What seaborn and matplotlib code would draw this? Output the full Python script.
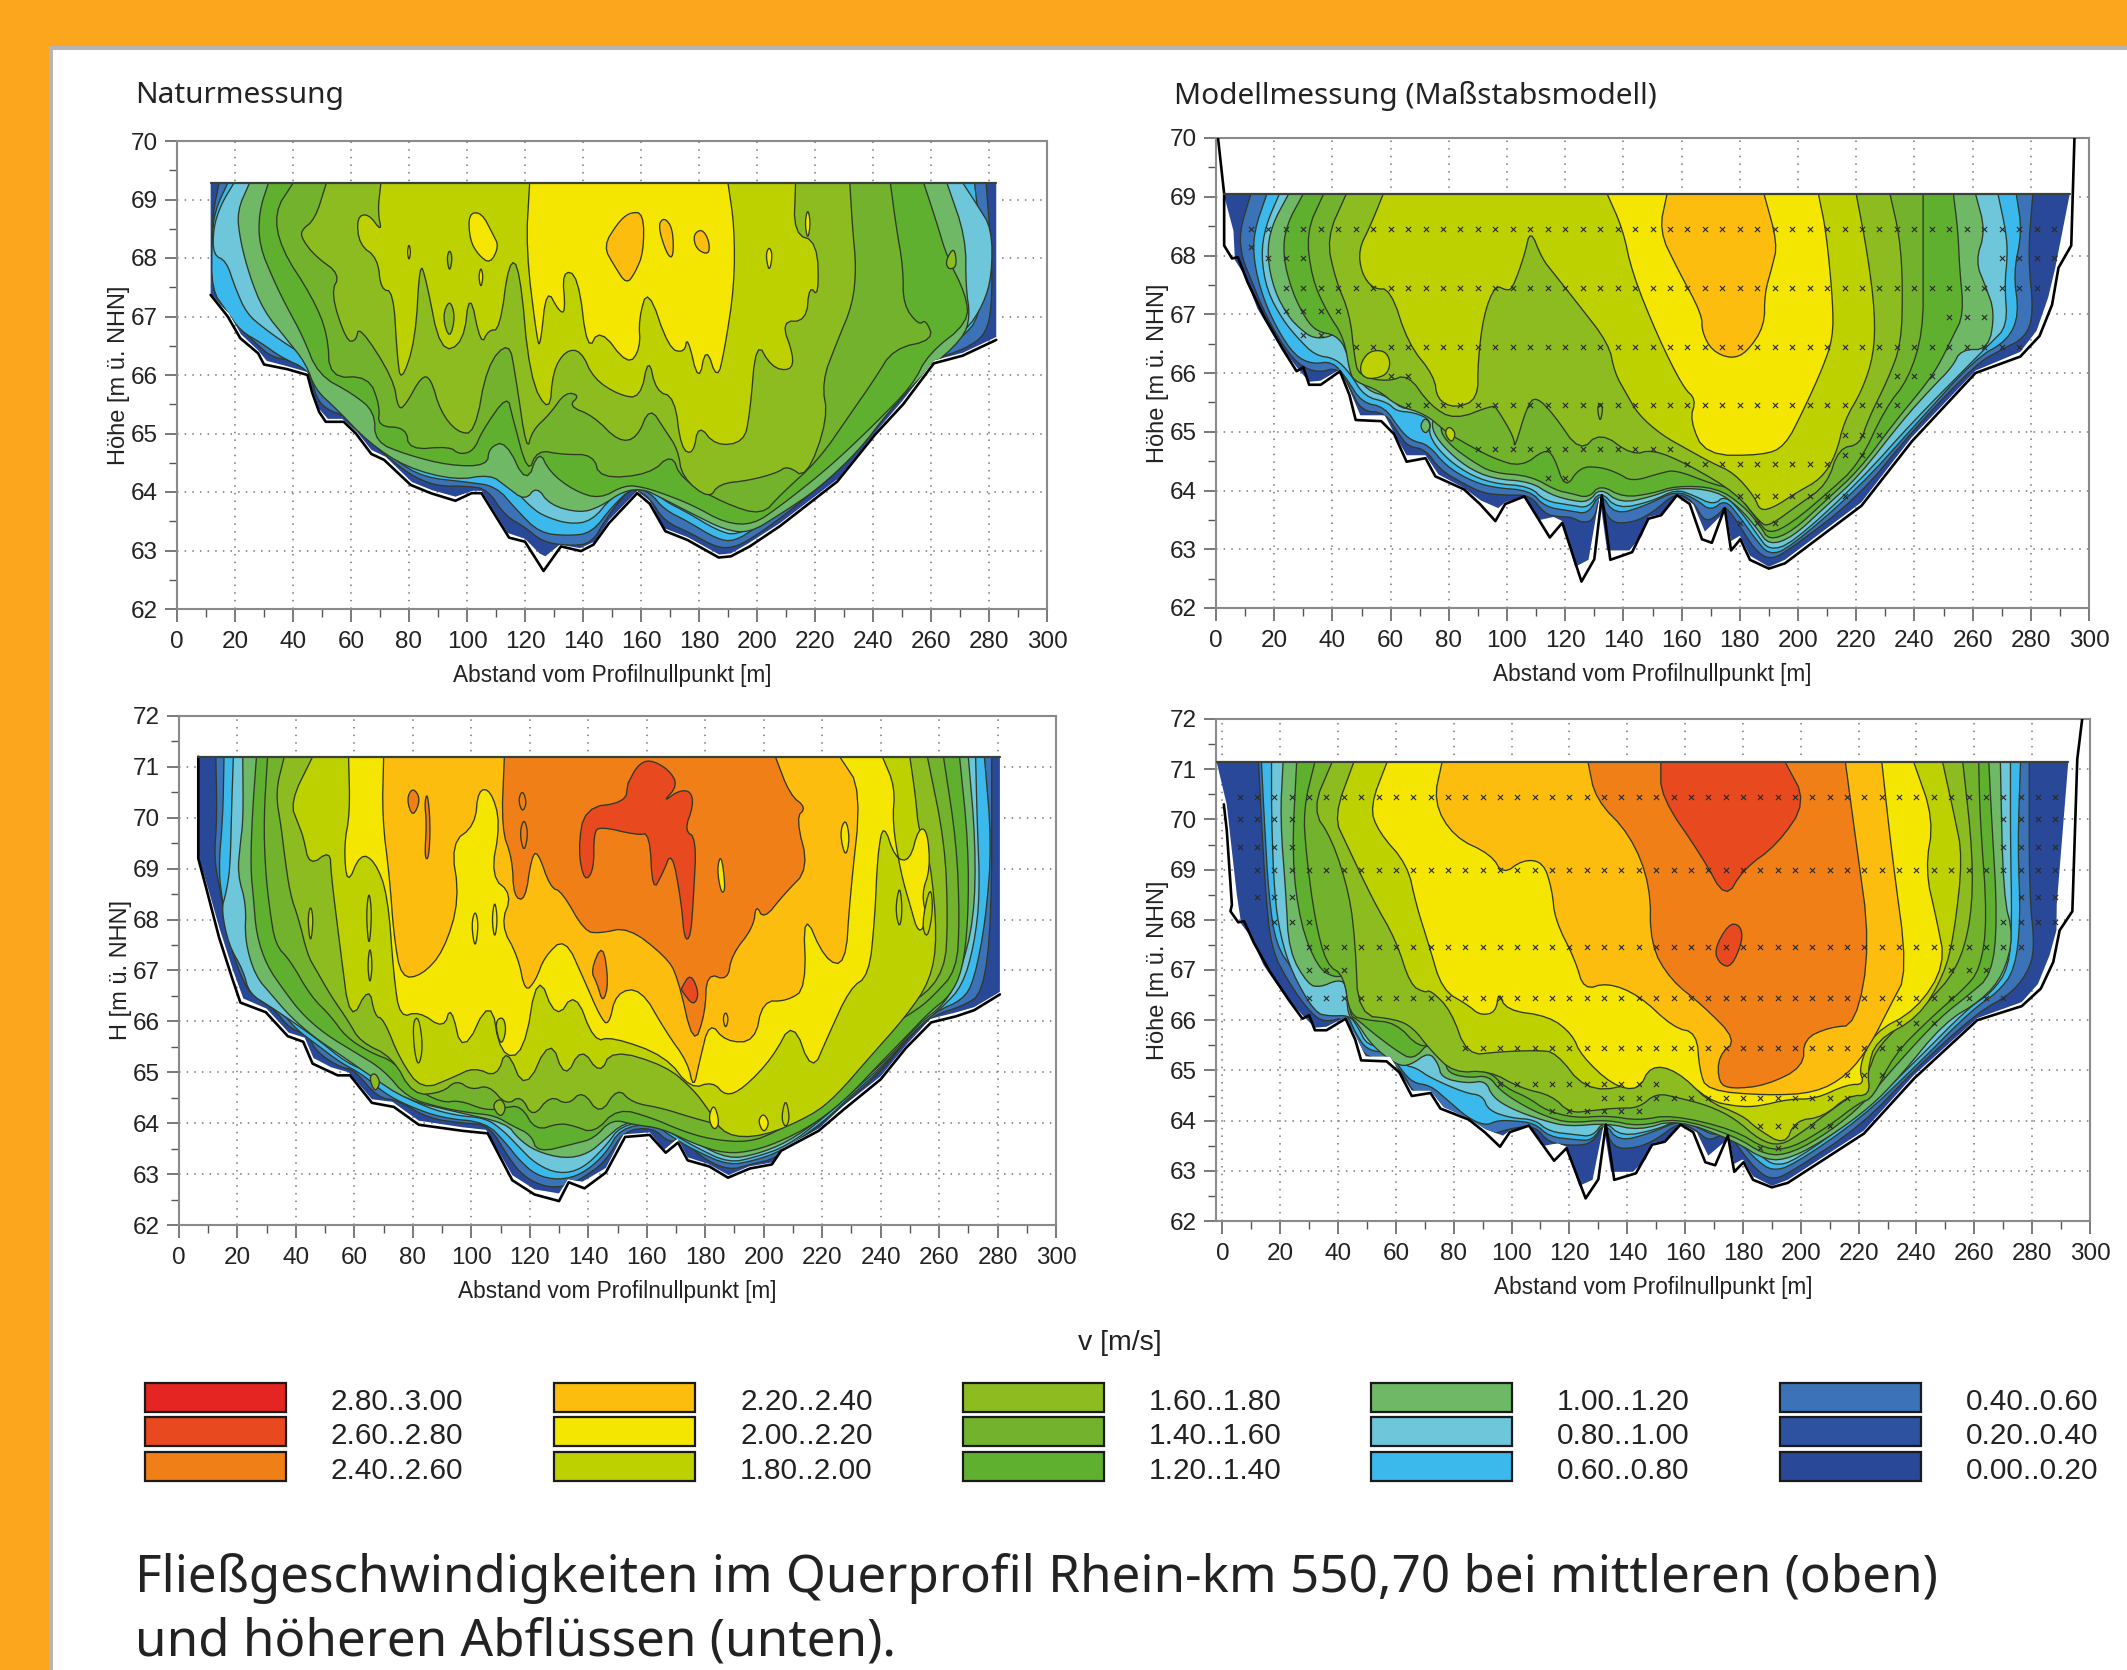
import numpy as np
import matplotlib
matplotlib.use('Agg')
import matplotlib.pyplot as plt
from matplotlib.patches import Polygon, Rectangle
import seaborn as sns

W, H = 2127, 1670

BAND_COLORS = ['#2A4898', '#2C52A0', '#3B72B8', '#3CB9EC', '#6EC6DA', '#6EB866', '#60B030', '#72B22C',
               '#8DBC20', '#BDD000', '#F4E600', '#FDBD0E', '#F07F18', '#E8491E', '#E52521']
LEGEND_COLUMNS = [[14, 13, 12], [11, 10, 9], [8, 7, 6], [5, 4, 3], [2, 1, 0]]
LEGEND_LABELS = [['2.80..3.00', '2.60..2.80', '2.40..2.60'], ['2.20..2.40', '2.00..2.20', '1.80..2.00'],
                 ['1.60..1.80', '1.40..1.60', '1.20..1.40'], ['1.00..1.20', '0.80..1.00', '0.60..0.80'],
                 ['0.40..0.60', '0.20..0.40', '0.00..0.20']]

# Naturmessung, mittlerer Abfluss
TL_BED = [(11.6,67.37),(17.5,67.0),(21.8,66.63),(28,66.37),(30,66.18),(38,66.1),(45,66.0),(46.6,65.7),(49,65.37),(51.3,65.2),(57.5,65.2),(61.7,65.0),(67,64.65),(71.4,64.55),(80.6,64.12),(87.5,63.98),(96,63.85),(101.6,63.98),(105,63.98),(114.5,63.22),(120,63.15),(126.4,62.65),(132.4,63.07),(139.3,62.99),(143.6,63.1),(149,63.47),(158.7,63.98),(163,63.8),(168.4,63.33),(176,63.18),(186.8,62.88),(191,62.9),(197.5,63.07),(208,63.42),(227.7,64.18),(240.7,64.98),(250.4,65.5),(261,66.2),(270.9,66.33),(282.5,66.6)]
TL_FILL = [(11.6,69.28),(11.6,67.4),(15,67.2),(18,67.05),(22,66.7),(28,66.42),(31,66.24),(38,66.15),(45,66.05),(47,65.7),(49,65.42),(52,65.25),(57,65.25),(62,65.03),(67,64.72),(72,64.6),(81,64.17),(88,64.03),(96,63.92),(102,64.02),(105,64.02),(114,63.3),(120,63.2),(125,62.95),(127,62.9),(132,63.1),(139,63.04),(144,63.15),(149,63.52),(158.7,64.02),(163,63.85),(168,63.38),(176,63.23),(187,62.93),(191,62.95),(197,63.12),(208,63.47),(228,64.23),(241,65.03),(250,65.55),(261,66.25),(271,66.38),(282.5,66.65),(282.5,69.28)]
TL_L04 = [(14.5,69.28),(12.5,68.8),(12,68.3),(12,67.8),(13,67.5),(18,67.2),(22,66.8),(28,66.5),(33,66.3),(40,66.25),(46,66.05),(48,65.6),(52,65.4),(58,65.3),(63,65.05),(68,64.8),(75,64.5),(82,64.25),(90,64.1),(100,64.1),(107,64.05),(113,63.6),(120,63.4),(126,63.15),(135,63.08),(143,63.12),(148,63.55),(155,64.0),(158,64.05),(163,63.9),(168,63.5),(177,63.3),(186,63.05),(192,63.05),(198,63.2),(208,63.55),(218,63.95),(228,64.35),(240,65.1),(250,65.65),(260,66.25),(272,66.45),(279,66.7),(281,67.2),(281,68),(279,69.28)]
TL_L06 = [(17.5,69.28),(13,68.8),(12,68.3),(12,67.45),(17,67.1),(22,66.75),(29,66.55),(36,66.3),(45,66.1),(50,65.65),(55,65.45),(60,65.25),(67,64.9),(75,64.55),(85,64.25),(100,64.17),(110,64.1),(117,63.7),(125,63.3),(135,63.25),(143,63.3),(150,63.75),(157,64.08),(163,64.0),(168,63.7),(176,63.5),(186,63.2),(192,63.15),(200,63.4),(210,63.75),(220,64.15),(230,64.6),(240,65.3),(250,65.85),(260,66.4),(270,66.6),(277,67),(278,68),(275,69.28)]
TL_L08 = [(19.6,69.28),(15,68.9),(12.5,68.5),(12.5,68.05),(17,67.95),(20,67.5),(24,67.05),(30,66.8),(37,66.55),(45,66.3),(50,65.85),(56,65.55),(63,65.2),(72,64.75),(82,64.4),(95,64.28),(108,64.28),(113,64.2),(118,63.95),(122,63.75),(126,63.6),(135,63.45),(143,63.5),(150,63.92),(157,64.12),(163,64.07),(168,63.85),(176,63.65),(186,63.35),(193,63.25),(202,63.55),(212,63.9),(222,64.35),(232,64.9),(242,65.45),(252,66.0),(262,66.5),(272,66.75),(278,67.2),(281,67.7),(281,68.5),(276,68.9),(271,69.28)]
TL_L10 = [(25,69.28),(20.7,68.8),(21.8,68.3),(25,67.7),(29.8,67.1),(38,66.6),(44.4,66.2),(47.7,65.75),(55,65.42),(66,64.85),(79,64.42),(96,64.2),(108,64.3),(113.4,64.1),(120,63.85),(124,64.1),(128.5,63.78),(139,63.64),(146,63.75),(154,64.02),(161,64.05),(167,63.9),(178,63.62),(189,63.35),(197.5,63.3),(208,63.62),(221,64.05),(235,64.7),(245,65.35),(258,66.05),(271,66.62),(273.5,67),(272,67.5),(272,68.35),(265.5,69.28)]
TL_L12 = [(31.5,69.28),(28.3,68.79),(28.3,68.22),(33.6,67.59),(38,67.15),(43.3,66.67),(48.7,66),(60.6,65.68),(68.2,65.37),(68.2,64.86),(79,64.64),(94,64.45),(107,64.45),(107.6,64.76),(113.4,64.87),(120.5,64.12),(124.8,64.72),(128.5,64.34),(137,64.02),(145.8,63.88),(154.4,64.12),(161,64.08),(168.4,63.96),(178,63.77),(189,63.47),(198.7,63.44),(208,63.76),(221.3,64.28),(230,64.66),(240.7,65.17),(253.6,65.82),(259,66.36),(273,66.9),(272,67.38),(265.5,68.02),(262,68.6),(257.5,69.28)]
TL_L14 = [(40,69.28),(33.6,68.79),(35.8,68.16),(46.6,67.34),(52,66.7),(52.6,65.95),(66,65.98),(70,65.47),(69.2,65.12),(79,65.1),(80,64.72),(94,64.78),(97.3,64.64),(102.3,64.7),(105.3,65.05),(113.9,65.66),(115.6,65.3),(121,64.3),(124.2,64.72),(132.8,64.64),(143.6,64.64),(145.8,64.23),(163,64.3),(170.6,64.66),(173.8,64.22),(189,63.8),(201.7,63.6),(208,63.95),(221.3,64.55),(232,65.32),(240.7,65.94),(247,66.45),(261,66.6),(258.2,66.95),(255.8,66.85),(250.4,67.2),(250.4,67.84),(248,68.53),(246,69.28)]
TL_L16 = [(51.5,69.28),(47.6,68.66),(42.7,68.47),(43.3,68.31),(47.7,68.03),(56.3,67.72),(53,67.4),(58.4,66.58),(61.7,66.58),(62.8,66.85),(74.6,65.94),(76.3,65.4),(79,65.5),(84.3,65.98),(87.5,65.95),(90.8,65.38),(96.6,65.02),(102.7,65),(106.9,66.17),(114.5,66.58),(116.7,66),(120.6,64.68),(122.5,65.05),(128.5,65.33),(134,65.71),(138.9,65.65),(135,65.47),(143.6,65.3),(152.3,64.86),(158.7,64.92),(163,65.46),(168.4,65.05),(172.7,64.73),(174.2,64.25),(183.5,63.88),(186.8,64.14),(197.5,64.2),(207,64.33),(210.5,64.45),(217,64.23),(224.5,65.25),(222.3,65.88),(227.7,66.58),(233,67.21),(234.2,67.84),(233,68.47),(232,69.28)]
TL_L18 = [(70.3,69.28),(69.2,68.79),(70.7,68.44),(66,68.76),(62,68.7),(62.8,68.23),(69.2,68),(70.3,67.46),(74.6,67.43),(75.9,66.34),(77.2,65.86),(82.2,66.58),(83.7,67.93),(85.8,67.66),(90.8,66.39),(98.8,66.54),(100.9,67.46),(104.8,66.5),(107.4,66.77),(111.3,66.77),(114.5,67.97),(118.2,67.84),(121.6,65.94),(128.5,65.33),(129.6,66.07),(134,66.42),(139.3,66.42),(143.6,65.94),(152.3,65.66),(159.8,65.6),(162.6,66.32),(165.2,65.72),(171.6,65.62),(173.8,64.74),(178,64.64),(179.8,65.16),(185.7,64.79),(195.4,64.85),(197.5,65.31),(199.7,66.6),(205,66.13),(211.6,66.07),(212.7,66.32),(208.3,66.92),(217,66.92),(218,67.53),(221.3,67.33),(220.8,68.28),(212.7,68.41),(213.3,69.28)]
TL_L20 = [(121.6,69.28),(120.3,68.16),(124.2,66.58),(125.3,66.5),(127.4,67.49),(131.8,67.08),(134,67.08),(132.8,67.78),(138.3,67.71),(141.5,66.39),(145.8,66.8),(155.5,66.16),(159.8,66.45),(159.2,66.96),(162.4,67.5),(169.6,66.45),(175,66.38),(176,66.67),(179.9,65.85),(182.4,66.5),(186.3,65.9),(188.9,66.45),(192.2,67.53),(192.2,68.54),(190,69.28)]
TL_ISLANDS = [(10, [(100.5,68.76),(105,68.78),(109,68.4),(111,68.2),(108,67.9),(104,68.05),(101,68.3)]),
              (11, [(147,68.2),(152,68.6),(156,68.78),(160.9,68.77),(160.9,68.1),(158,67.75),(155,67.55),(151,67.85)]),
              (11, [(165.8,68.55),(168,68.7),(171,68.5),(171.2,68),(169,68.05)]),
              (11, [(178,68.4),(181,68.5),(183.5,68.3),(183.5,68.05),(179,68.15)]),
              (10, [(79.4,68.1),(80,68.25),(80.6,68.1),(80,67.95)]),
              (10, [(104,67.68),(104.8,67.85),(105.6,67.68),(104.8,67.48)]),
              (10, [(203,68.05),(204.2,68.2),(205.4,68.05),(204.2,67.75)]),
              (10, [(216.5,68.6),(217.5,68.85),(218.5,68.6),(217.5,68.3)]),
              (8, [(93,68.0),(94,68.15),(95,68.0),(94,67.75)]),
              (8, [(91.5,67),(94,67.3),(96,67),(94,66.6)]),
              (8, [(265,67.95),(268,68.2),(269,67.85),(266,67.8)])]

# Naturmessung, hoeherer Abfluss
BL_BED = [(6.6,71.2),(6.6,69.2),(9.4,68.6),(13.7,67.65),(18,66.88),(21,66.37),(29.7,66.18),(37.2,65.71),(42.5,65.6),(45.7,65.17),(54.3,64.94),(58.5,64.94),(66,64.4),(73.5,64.32),(82,63.97),(97,63.85),(105.6,63.8),(114,62.88),(121.6,62.6),(130,62.47),(133.3,62.84),(138.7,62.72),(146,63.03),(152.6,63.73),(161,63.77),(166.5,63.42),(170.7,63.62),(174,63.27),(181.4,63.15),(187.8,62.93),(195.3,63.11),(202.8,63.19),(206,63.46),(218.8,63.85),(227.4,64.27),(240,64.86),(248.7,65.48),(257.3,65.98),(265.8,66.1),(272,66.22),(280.8,66.53)]
BL_FILL = [(6.6,71.2),(6.6,69.25),(10,68.6),(14,67.8),(18.5,67),(22,66.45),(30,66.25),(37.5,65.78),(43,65.68),(46,65.28),(52,65.1),(58,65.0),(66,64.47),(73,64.42),(82,64.05),(97,63.92),(105,63.87),(114,62.98),(121.6,62.7),(130,62.62),(133,62.9),(138,62.85),(146,63.12),(152,63.78),(161,63.82),(166,63.48),(170.5,63.7),(174,63.33),(181,63.2),(188,62.98),(195,63.15),(203,63.23),(206,63.5),(219,63.9),(227,64.33),(240,64.92),(249,65.55),(257,66.05),(266,66.18),(272,66.28),(280.8,66.58),(280.8,71.2)]
BL_L04 = [(12.6,71.2),(13,70),(12,69.2),(14,68.6),(17,67.6),(21,66.9),(25,66.5),(32,66.28),(38,65.85),(44,65.75),(47,65.4),(55,65.1),(60,65.05),(68,64.5),(75,64.45),(85,64.1),(97,64.0),(106,63.97),(113,63.3),(118,62.95),(125,62.75),(132,62.75),(138,62.92),(146,63.25),(152,63.85),(162,63.92),(168,63.6),(172,63.75),(178,63.35),(188,63.07),(196,63.2),(204,63.3),(219,63.95),(228,64.4),(240,65),(249,65.65),(258,66.12),(268,66.3),(275,66.55),(278,68),(278,71.2)]
BL_L06 = [(15.4,71.2),(15,70),(13.5,69),(15,68.3),(18,67.4),(22,67),(28,66.45),(35,66.2),(40,65.85),(47,65.55),(55,65.2),(63,64.95),(70,64.6),(78,64.35),(90,64.1),(105,64.02),(112,63.6),(116,63.3),(122,62.98),(130,62.88),(138,63.0),(146,63.4),(151,63.9),(162,64),(170,63.68),(177,63.45),(188,63.17),(197,63.27),(206,63.45),(220,64),(230,64.55),(241,65.1),(250,65.75),(259,66.2),(268,66.42),(272,66.8),(276,68),(278,69.5),(275.5,71.2)]
BL_L08 = [(18.6,71.2),(18,70.2),(17.5,69),(16,68.5),(14.5,68.2),(17,67.5),(22,67.0),(24,66.55),(31,66.3),(40,65.95),(48,65.62),(57,65.2),(65,65.0),(72,64.67),(85,64.3),(95,64.15),(105,64.1),(111,63.85),(116,63.55),(122,63.2),(130,63.0),(138,63.1),(146,63.55),(151,63.95),(162,64.05),(170,63.75),(177,63.52),(188,63.22),(197,63.33),(208,63.55),(220,64.08),(231,64.65),(242,65.2),(252,65.85),(261,66.27),(268,66.7),(272,67.5),(274,68.5),(273,70),(272.5,71.2)]
BL_L10 = [(21.8,71.2),(22,70),(21,69.5),(20,68.9),(23,68.3),(22.5,67.6),(26,66.9),(32,66.5),(38,66.1),(46,65.7),(55,65.35),(65,64.95),(78,64.45),(95,64.22),(112,64.0),(116,63.7),(122,63.45),(132,63.3),(140,63.4),(146,63.7),(152,64),(162,64.1),(170,63.85),(177,63.6),(188,63.3),(197,63.38),(208,63.62),(221,64.15),(232,64.75),(243,65.3),(253,65.95),(262,66.35),(267,66.9),(272,68),(272.5,69.5),(270,71.2)]
BL_L12 = [(26.5,71.2),(25,70),(24.5,69),(25.5,68.4),(26.5,67.7),(30,67.1),(36,66.6),(42,66.15),(50,65.75),(60,65.4),(70,65.05),(78,64.5),(90,64.3),(100,64.2),(108,64.15),(114,63.95),(120.5,63.77),(122.6,63.42),(135.5,63.6),(142,63.7),(148,64.08),(155.8,63.97),(165,63.9),(176,63.6),(186.8,63.4),(197,63.46),(208,63.7),(219,64.05),(229.5,64.55),(239,65.13),(248.7,65.7),(257,66.2),(263.7,66.5),(268,67),(270,68),(270,69.5),(267,71.2)]
BL_L14 = [(30.3,71.2),(29,70),(29.5,69),(31,68.2),(33,67.5),(38,67.2),(45,66.5),(52,66.1),(57,65.7),(65,65.4),(74,65.2),(80,64.7),(90,64.4),(96,64.45),(105,64.25),(111,64.3),(117,64.35),(122,63.85),(130,64.0),(135,63.95),(142,63.8),(150,64.3),(162,64.1),(172,63.85),(182,63.68),(195,63.62),(205,63.85),(215,64.2),(225,64.7),(236,65.35),(243,65.9),(253,66.25),(258,66.5),(266,67),(267,68),(266,69.5),(261.5,71.2)]
BL_L16 = [(36,71.2),(33,70.5),(35,69.8),(36,69.3),(38,68.5),(41,68),(44,67.3),(47,67),(52,66.5),(58,66),(62,65.6),(73,65.3),(80,64.55),(90,64.6),(95,64.85),(100,64.65),(106,64.75),(112,64.35),(117,64.55),(121,64.1),(127,64.55),(133,64.35),(138,64.65),(144,64.15),(150,64.7),(155,64.4),(165,64.3),(176,64.1),(186,63.95),(195,63.85),(205,64.05),(215,64.55),(222,65.0),(229,65.65),(240,66.2),(253,66.4),(262,67),(263,68),(262,69.5),(256,71.2)]
BL_L18 = [(45.7,71.2),(38,70.3),(41,69.85),(42.5,69.63),(44.6,69.05),(51.7,69.36),(52,68.9),(55,67.5),(58.5,65.95),(65,66.7),(67,66.1),(70,66.05),(75.6,65.25),(83,64.65),(93.8,64.9),(101,65.1),(108.8,64.9),(112,65.5),(118.4,64.6),(127,65.7),(132,64.85),(137.6,65.5),(144,64.95),(148,65.45),(166.5,65.13),(176,64.66),(181.4,64.24),(186.8,63.75),(199.6,63.73),(216.7,64.16),(225,64.55),(236,65.28),(248.7,66.1),(257,66.8),(259.4,67.65),(257,69.2),(253,69.75),(252,70.4),(250,71.2)]
BL_L20 = [(58,71.2),(58.5,70.1),(56.4,69.45),(57.5,68.66),(62,69.3),(67,69.15),(71.4,68.5),(73.5,66.87),(75.6,66.07),(82,66.2),(90.6,65.85),(93,66.33),(97,65.32),(106.6,66.5),(110,65.32),(118,65.35),(122.6,67.0),(129,66.02),(135.5,66.6),(142,65.6),(148,65.7),(166.5,65.32),(175,64.67),(182.6,64.82),(187,64.53),(193,64.68),(203,65.28),(210,66.03),(216.5,64.98),(222,65.71),(229.5,66.65),(236,66.9),(238,68),(239,69.3),(241,69.9),(245,69.2),(250,69.15),(253,69.8),(256,69.75),(257,69),(254,68.5),(256,68),(253,67.7),(250,68.3),(247,68.9),(244,69.9),(245,70.6),(240.6,71.2)]
BL_L22 = [(70,71.2),(69.5,70),(72,68.85),(73.5,67.68),(76,66.85),(83,66.9),(90.6,67.38),(96,68.4),(93,69.5),(101.3,69.85),(102.3,70.55),(106.6,70.55),(110,69.9),(106.6,68.85),(114,68.5),(110,67.9),(116,67.27),(118.4,66.57),(122,66.8),(125,67.27),(132,67.65),(138.7,66.8),(144,66.1),(147,65.9),(149.5,66.57),(158,66.65),(166.5,65.8),(174,65.2),(176,64.67),(178,65.2),(181.4,66),(187,65.6),(197,65.6),(199.6,66.4),(208,66.4),(214.6,66.65),(213.5,68.2),(221,67.2),(228,67.1),(229.5,68.43),(233.5,70.55),(226,71.2)]
BL_L24 = [(111.3,71.2),(110.3,69.78),(114,69.2),(114.5,68.45),(118.4,68.37),(120.5,69.2),(122.6,69.36),(127,68.63),(131,68.55),(138.7,67.77),(144,67.73),(153.7,67.85),(166.5,67.27),(170.5,66.9),(176,65.5),(180,66.15),(180.5,66.95),(187.7,66.8),(189,67.3),(196.5,67.85),(197.4,68.3),(200,68),(207,68.5),(215.5,69.0),(211,70),(214.6,70.2),(209,70.45),(204,71.2)]
BL_L26 = [(153.6,70.68),(156.8,71.03),(161,71.15),(167.5,70.95),(170.7,70.64),(165.4,70.3),(170.7,70.53),(175,70.53),(176,70.25),(172.9,69.75),(177,69.6),(176,68.43),(175,67.65),(172.9,67.6),(171.8,68.35),(168.6,69.36),(165.4,68.9),(162,68.55),(161,69.7),(156.8,69.66),(144,69.83),(141.9,69.7),(141.9,68.97),(138.7,68.74),(136.5,69.36),(138.7,70.2),(152.6,70.3),(153.6,70.68)]
BL_ISLANDS = [(12, [(140.8,67),(145,67.55),(147,66.75),(145,66.35),(143,66.75)]),
              (12, [(77.8,70.37),(80,70.6),(82.7,70.37),(80,70)]),
              (13, [(171.8,66.65),(175,66.95),(178,66.55),(176,66.3),(172,66.6)]),
              (10, [(100,67.9),(101.3,68.2),(102.5,67.9),(101.3,67.4)]),
              (10, [(107,68.0),(108,68.4),(109,68.0),(108,67.6)]),
              (10, [(184,69.0),(185.5,69.3),(187,68.6),(185.5,68.5)]),
              (10, [(226,69.7),(228,70),(229.5,69.6),(228,69.2)]),
              (9, [(80,66),(82,66.1),(83.5,65.5),(82,65.1),(80.5,65.4)]),
              (9, [(108,66),(111,66.1),(112,65.8),(110,65.5)]),
              (10, [(181,64.1),(183,64.4),(185,64.0),(183,63.85)]),
              (10, [(198,64.05),(200,64.2),(202,64.0),(200,63.8)]),
              (11, [(186,66.05),(187,66.2),(188,66.05),(187,65.85)]),
              (9, [(44,68),(45,68.3),(46,68),(45,67.5)]),
              (12, [(84,70.3),(85,70.5),(86,69.9),(85.5,69.2),(84,69.2),(84.7,69.9)]),
              (12, [(116,70.35),(117.5,70.55),(119,70.3),(117.5,70.1)]),
              (12, [(116.5,69.7),(118,70),(119.5,69.7),(118,69.3)]),
              (9, [(64,68.1),(65,68.6),(66,68.1),(65,67.4)]),
              (9, [(64.5,67.1),(65.3,67.5),(66.2,67.1),(65.3,66.7)]),
              (9, [(245,68.2),(246.5,68.7),(247.5,68.2),(246.5,67.8)]),
              (9, [(254,67.9),(257,68.7),(258,68.2),(256,67.6)]),
              (8, [(65,64.9),(67,65.0),(69,64.8),(67,64.6)]),
              (8, [(107,64.35),(110,64.5),(112,64.3),(110,64.1)]),
              (9, [(206,64.1),(207.5,64.5),(209,64.1),(207.5,63.9)])]

# Modellmessung, gemeinsame Sohle
MODEL_BED = [(2.8,68.17),(5.5,67.95),(7.5,67.97),(10.9,67.54),(16.4,66.97),(23,66.4),(27.7,66.03),(30,66.1),(32,65.8),(36,65.8),(42.6,66.03),(45.9,65.62),(48,65.2),(56.8,65.18),(61.2,64.96),(65.5,64.49),(72,64.55),(75.4,64.24),(85.2,64.02),(90.7,63.77),(96,63.48),(99.4,63.77),(106,63.9),(114.7,63.2),(119,63.45),(125.6,62.45),(130,62.83),(132.6,63.92),(135.5,62.82),(143,62.95),(148.6,63.52),(153,63.58),(158.4,63.92),(162.8,63.77),(167,63.17),(170.4,63.11),(174.8,63.7),(177,62.98),(180.2,63.17),(183.5,62.82),(190,62.67),(195.5,62.76),(221.8,63.74),(239.2,64.84),(261,66),(276.4,66.28),(283,66.63),(287.3,67.16),(289.5,67.79),(293.9,68.17)]
MODEL_FILL = [(6.5,67.92),(9.8,67.67),(14.2,67.1),(21,66.53),(27.7,66.1),(32,65.85),(36,65.87),(42.6,66.06),(46,65.7),(49.6,65.28),(58,65.28),(62,64.9),(65.5,64.6),(72,64.6),(76.5,64.27),(85,64.05),(91,63.83),(97,63.7),(99.4,63.8),(106,63.9),(111.4,63.5),(116,63.55),(119,63.48),(123.4,62.7),(128,62.82),(131.8,63.9),(134.4,62.98),(142,62.98),(146.4,63.23),(148.6,63.55),(153,63.6),(158.4,63.94),(164,63.77),(168,63.3),(173.7,63.58),(175,63.7),(177,63.14),(180,63.23),(183.5,62.89),(190,62.7),(195.5,62.82),(221.8,63.8),(239,64.9),(261,66.04),(276.4,66.36),(282,66.72),(286,67.29),(288.4,67.79)]
TR_BANK_L = [(0.7,70),(2.8,69.05)]
TR_BANK_R = [(295,70)]
TR_FILL_L = [(2.6,69.05),(6,68.42)]
TR_FILL_R = [(293.4,69.05)]
BR_BANK_L = [(0.5,70.3),(1.5,69.8),(3.3,68.3)]
BR_BANK_R = [(295.6,71.2),(297.3,72)]
BR_FILL_L = [(-2,71.15),(1.5,70.3),(5,68.5)]
BR_FILL_R = [(288.5,68.3),(292.5,71.15)]

TR_L04 = [(12,69.05),(8,68.4),(9,67.95),(12,67.6),(16,67.1),(22,66.55),(28,66.15),(35,66.0),(42,66.1),(46,65.75),(50,65.35),(58,65.33),(63,64.95),(66,64.75),(72,64.7),(77,64.35),(85,64.12),(92,63.95),(100,63.92),(108,63.92),(113,63.6),(118,63.55),(122,63.55),(126,63.45),(130,63.5),(132,63.95),(135,63.45),(143,63.45),(150,63.62),(158,63.97),(164,63.82),(168,63.45),(173,63.6),(175,63.75),(180,63.4),(185,63.0),(190,62.82),(196,62.95),(221,63.9),(239,65.0),(261,66.15),(270,66.4),(278,66.6),(281,67.0),(279,68),(280.7,69.05)]
TR_L06 = [(17.5,69.05),(13,68.4),(13,67.9),(16,67.3),(21,66.75),(27,66.3),(33,66.15),(40,66.2),(45,65.9),(50,65.5),(58,65.42),(63,65.05),(67,64.85),(73,64.78),(79,64.42),(87,64.18),(95,64.05),(108,64.0),(113,63.72),(122,63.65),(128,63.6),(132,63.98),(137,63.58),(148,63.75),(158,64),(165,63.85),(170,63.65),(175,63.85),(180,63.55),(185,63.2),(190,62.9),(197,63.02),(221,64.05),(240,65.1),(261,66.25),(272,66.55),(276,67),(274,67.7),(277,68.4),(275,69.05)]
TR_L08 = [(21.8,69.05),(17,68.5),(15.5,68),(17.5,67.4),(23,66.9),(28,66.6),(34,66.3),(41,66.25),(46,66.0),(51,65.6),(59,65.5),(62,65.35),(68,65.33),(74,65.2),(73,64.95),(78,64.6),(86,64.3),(95,64.12),(108,64.07),(113,63.82),(122,63.75),(128,63.7),(132,64),(138,63.68),(150,63.82),(158,64.02),(164,63.92),(171,63.75),(175,63.92),(181,63.6),(186,63.25),(190,62.98),(198,63.1),(221,64.15),(240,65.2),(259,66.15),(266,66.5),(272,66.8),(271,67.5),(272,68.0),(271.5,68.4),(268.7,69.05)]
TR_L10 = [(25,69.05),(19,68.5),(17.5,68),(20,67.4),(25,66.95),(29,66.75),(33,66.6),(38,66.6),(42,66.7),(44,66.45),(47,66.05),(52,65.7),(59,65.6),(65,65.35),(72,65.5),(75,65.3),(74,65.05),(78,64.75),(86,64.4),(95,64.2),(108,64.15),(115,63.93),(122,63.83),(128,63.8),(132,64.05),(139,63.78),(150,63.9),(158,64.05),(172,64.0),(180,63.7),(186,63.35),(190,63.07),(198,63.2),(210,63.75),(221,64.25),(236,65.2),(246,65.75),(253,66.1),(256,66.4),(265.5,66.4),(267.6,67.04),(264.4,67.48),(261,67.9),(264.4,68.42),(261,69.05)]
TR_L12 = [(30,69.05),(24,68.5),(23,68),(26,67.4),(31,66.9),(35,66.7),(41,66.65),(45,66.4),(47.5,66.05),(54,65.8),(60,65.65),(66,65.45),(74,65.6),(78,65.2),(77,65.0),(81,64.75),(88,64.5),(95,64.3),(108,64.25),(117,64.0),(122,63.95),(128,63.87),(132,64.1),(140,63.88),(150,63.95),(158,64.08),(172,64.05),(181,63.75),(187,63.4),(190,63.15),(198,63.3),(210,63.85),(221,64.35),(233,65.15),(243,65.75),(248,66.1),(253,66.6),(257,67),(255.5,67.8),(255,68.4),(253.4,69.05)]
TR_L14 = [(37,69.05),(31,68.4),(33,67.6),(38,67.05),(44,66.6),(46,66.0),(48,65.85),(56,65.7),(62,65.45),(72,65.3),(79,65.0),(84,64.85),(95,64.55),(105,64.4),(113,64.7),(116,64.6),(120,64.02),(125,64.4),(132,64.4),(138,64.3),(143,64.15),(153,64.3),(158,64.35),(170,64.12),(178,64.02),(186,63.5),(190,63.25),(198,63.45),(210,63.95),(221,64.45),(230,65.4),(238,65.9),(243,66.7),(243,67.8),(243,69.05)]
TR_L16 = [(44.8,69.05),(38,68.3),(41,67.6),(46,67.0),(47.5,66.3),(49,65.95),(59,65.85),(66,65.98),(73.5,65.45),(82,65.2),(95,65.45),(96.5,65.4),(102.5,64.9),(102.5,64.7),(107,65.45),(110,65.6),(116,65.3),(125,64.65),(132,65),(143,64.6),(150,64.7),(162,64.45),(179,63.95),(187,63.45),(190,63.39),(200,63.75),(210,64.1),(214,64.72),(221.3,64.78),(224,65.2),(231,65.9),(235.5,66.5),(236,67.5),(235,68.3),(231.6,69.05)]
TR_L18 = [(57.5,69.05),(53,68.5),(49,68.1),(50,67.7),(54,67.43),(60,67.43),(66,66.5),(75,65.95),(76,65.55),(82,65.4),(90,65.55),(90,66.2),(92,67.0),(96,67.5),(100,67.4),(102,67.45),(106,68.0),(108,68.45),(112,67.95),(116,67.7),(124,67.2),(135,66.5),(137,66.0),(141,65.65),(145,65.3),(153,64.95),(162,64.7),(170,64.48),(178,64.3),(185,63.9),(187,63.65),(192,63.72),(199,63.95),(208,64.2),(213,64.6),(216,65.2),(222,65.7),(226,66.3),(226.5,67),(224,68),(220,69.05)]
TR_L20 = [(134.4,69.05),(139.8,68.45),(143,67.7),(152,66.6),(160.6,65.75),(165,65.55),(162.8,65.2),(168.2,64.6),(188,64.6),(195.5,64.75),(202,65.38),(208.6,66.1),(212,66.6),(212,67.2),(209.7,68.4),(207,69.05)]
TR_L22 = [(155,69.05),(152.3,68.42),(158.4,67.79),(167,67),(167,66.7),(170.4,66.38),(177,66.24),(182.4,66.35),(188.5,66.8),(188.5,67.35),(191,67.79),(193,68.2),(188.3,69.05)]
TR_ISLANDS = [(9, [(49.5,66),(50,66.2),(53,66.38),(58,66.38),(60,66.2),(59,66),(56,65.92),(52,65.9)]),
              (9, [(78.5,64.98),(80,65.1),(82.5,64.98),(81,64.8)]),
              (8, [(131,65.4),(132,65.5),(133,65.4),(132,65.15)]),
              (5, [(70,65.1),(72,65.25),(74,65.1),(72,64.95)])]

BR_L04 = [(12.5,71.15),(13.5,70),(15,68.5),(17,67.4),(23,66.75),(29.7,66.2),(35,65.95),(42.9,66.07),(46,65.6),(50,65.25),(58,65.2),(63,64.9),(66,64.55),(72,64.5),(77,64.15),(85,63.95),(92,63.7),(100,63.85),(108,63.9),(113,63.55),(122,63.5),(128,63.55),(132,63.95),(135,63.45),(143,63.45),(150,63.62),(158,63.97),(164,63.8),(168,63.6),(172,63.7),(175,63.75),(180,63.35),(185,63),(190,62.82),(196,62.95),(221,63.9),(239,65),(261,66.15),(272,66.5),(278,66.9),(281,67.4),(279,68.5),(279,71.15)]
BR_L06 = [(13.5,71.15),(14.5,70),(16,68.5),(18.5,67.5),(25,66.95),(31,66.35),(37,66.1),(43,66.15),(46,65.75),(50,65.4),(58,65.35),(62,65),(66,64.75),(72,64.7),(78,64.4),(85,64.05),(91,63.9),(95,64.0),(100,64.0),(108,63.95),(113,63.68),(122,63.62),(128,63.6),(132,63.97),(137,63.58),(148,63.75),(158,64),(165,63.85),(170,63.7),(175,63.8),(180,63.5),(185,63.2),(190,63),(197,63.1),(221,64.05),(240,65.1),(259,66.2),(268,66.55),(274,67.0),(276,68),(275,69.5),(276,71.15)]
BR_L08 = [(17,71.15),(17,70),(18,68.5),(20,67.7),(24,66.95),(32,66.15),(37,66.08),(44,66.1),(47,65.85),(50,65.5),(58,65.45),(63,65.1),(67,65.05),(72,64.85),(84,64.55),(90,64.5),(92,64.2),(100,64.05),(108,64.02),(113,63.78),(122,63.72),(128,63.68),(132,64),(138,63.68),(150,63.82),(158,64.02),(164,63.92),(171,63.75),(175,63.88),(181,63.6),(186,63.3),(191,63.1),(198,63.2),(221,64.15),(240,65.2),(258,66.25),(266,66.55),(272,67.05),(273,68),(272.5,69.5),(272.5,71.15)]
BR_L10 = [(21,71.15),(20,70),(22,68.5),(23,67.37),(29.7,66.7),(34,66.66),(39.6,66.8),(42.9,66.74),(43.3,66.1),(46,66),(51.6,65.5),(60.4,65.1),(65,65.1),(71.4,65.37),(74.7,65.13),(75.8,64.85),(84.6,64.74),(91,64.8),(93.4,64.47),(100,64.23),(111,64.0),(119.8,63.88),(133,63.95),(144,63.8),(157,64.03),(177,63.6),(188,63.2),(196.7,63.25),(210,63.68),(224,64.27),(234,64.86),(249.5,65.95),(262.6,66.4),(270,66.9),(273.6,67.68),(270,68.47),(269,71.15)]
BR_L12 = [(25.7,71.15),(24,69.25),(27,67.9),(33,67.05),(38.5,66.85),(43,66.9),(44,66.1),(46.5,66.02),(52,65.75),(60,65.4),(66,65.2),(72,65.6),(77,65.2),(78,64.95),(85,64.85),(92,64.9),(96,64.6),(104,64.3),(112,64.08),(120,63.95),(133,64.02),(144,63.88),(157,64.06),(177,63.7),(188,63.3),(197,63.35),(210,63.78),(222,64.35),(232,65.05),(248,66.05),(258,66.5),(266,66.9),(268,68),(266,70),(265,71.15)]
BR_L14 = [(32,71.15),(28,70.2),(29,69.3),(32,68),(36,67.1),(42,66.9),(44,66.1),(50,66),(60,65.95),(68,65.45),(74,65.55),(78,65.15),(82,65),(92,65.0),(98,64.65),(106,64.45),(112,64.2),(122,64.05),(133,64.1),(144,64),(155,64.12),(177,63.82),(188,63.42),(197,63.45),(210,63.9),(220,64.35),(225,64.45),(232,65.3),(245,66.05),(256,66.6),(262,67),(264.5,68),(262,70),(261.5,71.15)]
BR_L16 = [(38,71.15),(31,70.2),(38,69.6),(44,68.5),(46,67.5),(47,66.1),(60,66.02),(66,65.85),(72,65.4),(80,64.95),(92,65.0),(103,64.65),(114,64.5),(120,64.15),(128,64.2),(136,64.25),(144,64.25),(150,64.55),(158,64.45),(168,64.3),(177,64.05),(186,63.6),(193,63.5),(200,63.75),(208,64.1),(220,64.6),(224,65.05),(226,65.4),(234,65.9),(243,66.3),(254,67),(259,68),(259.5,69.3),(256,71.15)]
BR_L18 = [(45.5,71.15),(38.5,70.05),(43,69.5),(52,68.4),(60,67.6),(65,66.7),(70,66.55),(72,66.6),(79,66.2),(84.6,65.3),(95.6,65.37),(108.8,65.4),(115.4,65.36),(125.3,64.62),(139.6,64.65),(149.5,65.2),(157,65.1),(167,64.4),(180,64.1),(184.6,63.85),(194.5,63.5),(198,64),(207.7,64.07),(216.5,64.5),(224,64.5),(223,65),(226,65.6),(240.7,66.05),(249.5,66.9),(253,67.7),(256,69.25),(253,70.1),(249,71.15)]
BR_L20 = [(57,71.15),(51,70.25),(54,69.75),(64,69.1),(67,68.3),(71.4,67.5),(76,66.6),(85,66.3),(89,66.1),(94.5,66.15),(95.6,66.58),(98,66.2),(113,66.08),(121,65.72),(124,65.3),(135,64.7),(144,64.6),(148,65.1),(157,65),(168,64.4),(178,64.28),(185,64.28),(196,64.43),(205,64.43),(216,64.72),(222,64.72),(220,65.05),(225,65.75),(240,66.2),(250,67.1),(247,68),(243,69),(246,70),(239,71.15)]
BR_L22 = [(76,71.15),(73,70.35),(80,69.65),(93,69.3),(97,68.9),(104,69.2),(111,69.15),(114,68.6),(115,68),(122,67.2),(125,66.6),(133,66.75),(144,66.5),(156,65.85),(164,65.75),(165,65),(167.6,64.6),(188,64.5),(205,64.55),(216,64.9),(224,65.5),(231,66.3),(237,66.95),(231.5,69.3),(228,71.15)]
BR_L24 = [(126.4,71.15),(129,70.4),(141,69.7),(148,68.7),(148,67.5),(155,66.8),(166,66.3),(178,65.6),(171.5,65.3),(171.5,64.75),(176,64.63),(188,64.7),(201,65.07),(201,65.63),(210,65.86),(219,65.9),(224,67.5),(219,69.6),(215.4,71.15)]
BR_L26 = [(151.6,71.15),(151.6,70.45),(166,69.25),(174,68.4),(180,69.0),(192,69.5),(202,70.35),(194.5,71.15)]
BR_ISLANDS = [(13, [(170,67.4),(175,67.92),(179,67.9),(180,67.6),(176,67.05),(172,67.12)])]

# Messlotrichtungen der Modellmessung, Abstand in m
MESS_X = [6,12,18,24,30,36,42,48,54,60,66,72,78,84,90,96,102,108,114,120,126,132,138,144,150,156,162,168,174,180,186,192,198,204,210,216,222,228,234,240,246,252,258,264,270,276,282,288]
TR_ROWS = [(68.45,9,288),(68.15,9,12),(67.95,18,30),(67.95,270,288),(67.45,24,288),(67.05,24,42),(66.95,252,264),(66.65,30,36),(66.45,48,276),(65.95,60,66),(65.95,234,246),(65.45,66,234),(64.95,216,228),(64.7,90,156),(64.6,216,222),(64.45,162,210),(64.22,114,120),(63.9,180,216),(63.45,180,192)]
BR_ROWS = [(70.45,6,288),(70,6,24),(70,270,288),(69.45,6,24),(69.45,270,288),(69,12,288),(68.45,12,24),(68.45,276,288),(67.95,18,30),(67.95,270,288),(67.45,30,276),(67,30,42),(67,252,264),(66.45,30,270),(65.45,84,234),(65.95,234,246),(64.9,216,228),(64.72,96,150),(64.45,132,216),(64.2,114,144),(63.9,186,210),(63.45,186,192)]

TICKS_X = [0,20,40,60,80,100,120,140,160,180,200,220,240,260,280,300]


def pick_rows(rows):
    xs, zs = [], []
    for z, x0, x1 in rows:
        for x in MESS_X:
            if x0 <= x <= x1:
                xs.append(x)
                zs.append(z)
    return xs, zs


def soften(pts, closed=False):
    # runde die Ecken der Isolinien etwas ab, Endpunkte bleiben an der Oberflaeche
    pts = np.array(pts, dtype=float)
    for _ in range(2):
        a = np.vstack([pts, pts[:1]]) if closed else pts
        q = 0.75 * a[:-1] + 0.25 * a[1:]
        r = 0.25 * a[:-1] + 0.75 * a[1:]
        mid = np.empty((2 * len(q), 2))
        mid[0::2] = q
        mid[1::2] = r
        pts = mid if closed else np.vstack([a[0], mid, a[-1]])
    return pts


def draw_panel(rect, ylim, ylabel, xmin, bed, fill, layers, islands, surface, rows=None):
    l, t, r, b = rect
    ax = fig.add_axes([l / W, 1 - b / H, (r - l) / W, (b - t) / H], facecolor='white', zorder=2)
    ax.set_xlim(xmin, 300)
    ax.set_ylim(*ylim)
    ax.set_axisbelow(True)
    ax.set_xticks(TICKS_X)
    ax.set_yticks(range(ylim[0], ylim[1] + 1))
    ax.set_xticks([t_ + 10 for t_ in TICKS_X[:-1]], minor=True)
    ax.set_yticks([v + 0.5 for v in range(ylim[0], ylim[1])], minor=True)
    ax.grid(True, which='major', color='#777777', linestyle=(0, (1, 4)), linewidth=1.1)
    ax.tick_params(axis='both', which='major', length=9, width=1.1, color='#555555', labelsize=17.5, labelcolor='#222222', pad=5)
    ax.tick_params(axis='x', which='major', pad=7)
    ax.tick_params(axis='both', which='minor', length=5.5, width=1.0, color='#555555')
    for side in ax.spines.values():
        side.set_color('#8a8a8a')
        side.set_linewidth(1.5)
    ax.set_xlabel('Abstand vom Profilnullpunkt [m]', fontsize=16.3, color='#222222', labelpad=8)
    ax.set_ylabel(ylabel, fontsize=17, color='#222222', labelpad=0)

    clip = Polygon(fill, closed=True, transform=ax.transData, facecolor='none', edgecolor='none')
    ax.add_patch(clip)
    base = Polygon(fill, closed=True, facecolor=BAND_COLORS[0], edgecolor='none', zorder=3)
    ax.add_patch(base)
    z = 4
    for band, pts in layers:
        poly = Polygon(soften(pts), closed=True, facecolor=BAND_COLORS[band], edgecolor='#2f3a28', linewidth=0.95, zorder=z)
        ax.add_patch(poly)
        poly.set_clip_path(clip)
        z += 0.01
    for band, pts in islands:
        poly = Polygon(soften(pts, closed=True), closed=True, facecolor=BAND_COLORS[band], edgecolor='#2f3a28', linewidth=0.95, zorder=z)
        ax.add_patch(poly)
        poly.set_clip_path(clip)
        z += 0.01

    bx, bz = zip(*bed)
    sns.lineplot(x=list(bx), y=list(bz), sort=False, estimator=None, color='black', linewidth=1.9, ax=ax, zorder=6)
    ax.plot([fill[0][0], fill[-1][0]], [surface, surface], color='#39423a', linewidth=1.6, zorder=6)
    if rows:
        mx, mz = pick_rows(rows)
        mask = clip.get_path().contains_points(np.column_stack([mx, mz]))
        sns.scatterplot(x=np.array(mx)[mask], y=np.array(mz)[mask], marker='x', s=14, color='#2a2a2a', linewidth=0.8, ax=ax, zorder=7, legend=False)
    return ax


sns.set_style('ticks')
plt.rcParams['font.family'] = ['Liberation Sans', 'DejaVu Sans']

fig = plt.figure(figsize=(W / 100, H / 100), dpi=100, facecolor='white')

bg = fig.add_axes([0, 0, 1, 1], zorder=0)
bg.set_xlim(0, W)
bg.set_ylim(H, 0)
bg.axis('off')
bg.add_patch(Rectangle((0, 0), W, 46, facecolor='#FBA61C', edgecolor='none'))
bg.add_patch(Rectangle((0, 0), 49, H, facecolor='#FBA61C', edgecolor='none'))
bg.add_patch(Rectangle((49, 46), 4, H, facecolor='#b5b5b5', edgecolor='none'))
bg.add_patch(Rectangle((49, 46), W, 4, facecolor='#b5b5b5', edgecolor='none'))

tl_layers = [(2, TL_L04), (3, TL_L06), (4, TL_L08), (5, TL_L10), (6, TL_L12), (7, TL_L14), (8, TL_L16), (9, TL_L18), (10, TL_L20)]
tr_layers = [(2, TR_L04), (3, TR_L06), (4, TR_L08), (5, TR_L10), (6, TR_L12), (7, TR_L14), (8, TR_L16), (9, TR_L18), (10, TR_L20), (11, TR_L22)]
bl_layers = [(2, BL_L04), (3, BL_L06), (4, BL_L08), (5, BL_L10), (6, BL_L12), (7, BL_L14), (8, BL_L16), (9, BL_L18), (10, BL_L20), (11, BL_L22), (12, BL_L24), (13, BL_L26)]
br_layers = [(2, BR_L04), (3, BR_L06), (4, BR_L08), (5, BR_L10), (6, BR_L12), (7, BR_L14), (8, BR_L16), (9, BR_L18), (10, BR_L20), (11, BR_L22), (12, BR_L24), (13, BR_L26)]

draw_panel((177, 141, 1047, 609), (62, 70), 'Höhe [m ü. NHN]', 0, TL_BED, TL_FILL, tl_layers, TL_ISLANDS, 69.28)
draw_panel((179, 716, 1056, 1225), (62, 72), 'H [m ü. NHN]', 0, BL_BED, BL_FILL, bl_layers, BL_ISLANDS, 71.2)
draw_panel((1216, 138, 2089, 608), (62, 70), 'Höhe [m ü. NHN]', 0, TR_BANK_L + MODEL_BED + TR_BANK_R,
           TR_FILL_L + MODEL_FILL + TR_FILL_R, tr_layers, TR_ISLANDS, 69.05, TR_ROWS)
draw_panel((1216, 719, 2090, 1221), (62, 72), 'Höhe [m ü. NHN]', -2.2, BR_BANK_L + MODEL_BED + BR_BANK_R,
           BR_FILL_L + MODEL_FILL + BR_FILL_R, br_layers, BR_ISLANDS, 71.15, BR_ROWS)

head = ['Noto Sans', 'DejaVu Sans']
bg.text(135, 96, 'Naturmessung', fontsize=21.5, family=head, va='center', color='#222222')
bg.text(1174, 96, 'Modellmessung (Maßstabsmodell)', fontsize=21.5, family=head, va='center', color='#222222')
bg.text(135, 1579, 'Fließgeschwindigkeiten im Querprofil Rhein-km 550,70 bei mittleren (oben)', fontsize=36.8, family=head, va='center', color='#222222')
bg.text(135, 1642, 'und höheren Abflüssen (unten).', fontsize=36.8, family=head, va='center', color='#222222')
bg.text(1120, 1343, 'v [m/s]', fontsize=20.5, ha='center', va='center', color='#222222')

swatch_x = [145, 554, 963, 1371, 1780]
swatch_y = [1383, 1417, 1452]
for cx, bands, labels in zip(swatch_x, LEGEND_COLUMNS, LEGEND_LABELS):
    for cy, band, label in zip(swatch_y, bands, labels):
        bg.add_patch(Rectangle((cx, cy), 141, 29, facecolor=BAND_COLORS[band], edgecolor='#1a1a1a', linewidth=1.6))
        bg.text(cx + 186, cy + 19, label, fontsize=21.4, va='center', color='#222222')

fig.savefig('out.png', dpi=100)
